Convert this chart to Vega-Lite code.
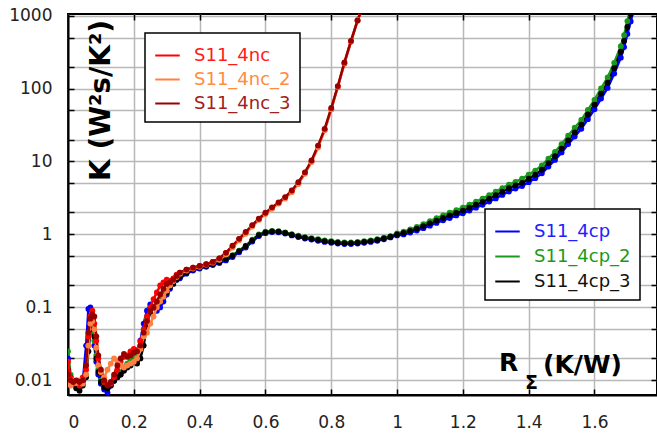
{
  "$schema": "https://vega.github.io/schema/vega-lite/v6.json",
  "width": 589,
  "height": 381,
  "autosize": {"type": "none"},
  "padding": {"left": 68, "top": 14, "right": 0, "bottom": 40},
  "background": "white",
  "datasets": {
    "cp": [
      {"s":"S11_4cp","x":0,"y":0.02},{"s":"S11_4cp","x":0.008,"y":0.01},{"s":"S11_4cp","x":0.016,"y":0.009},{"s":"S11_4cp","x":0.025,"y":0.0085},{"s":"S11_4cp","x":0.035,"y":0.009},{"s":"S11_4cp","x":0.045,"y":0.0095},{"s":"S11_4cp","x":0.055,"y":0.03},{"s":"S11_4cp","x":0.062,"y":0.095},{"s":"S11_4cp","x":0.068,"y":0.1},{"s":"S11_4cp","x":0.074,"y":0.06},{"s":"S11_4cp","x":0.08,"y":0.03},{"s":"S11_4cp","x":0.086,"y":0.018},{"s":"S11_4cp","x":0.092,"y":0.012},{"s":"S11_4cp","x":0.1,"y":0.009},{"s":"S11_4cp","x":0.11,"y":0.0075},{"s":"S11_4cp","x":0.12,"y":0.0068},{"s":"S11_4cp","x":0.13,"y":0.0085},{"s":"S11_4cp","x":0.14,"y":0.01},{"s":"S11_4cp","x":0.15,"y":0.011},{"s":"S11_4cp","x":0.16,"y":0.012},{"s":"S11_4cp","x":0.17,"y":0.014},{"s":"S11_4cp","x":0.18,"y":0.016},{"s":"S11_4cp","x":0.19,"y":0.018},{"s":"S11_4cp","x":0.2,"y":0.02},{"s":"S11_4cp","x":0.21,"y":0.024},{"s":"S11_4cp","x":0.22,"y":0.035},{"s":"S11_4cp","x":0.23,"y":0.06},{"s":"S11_4cp","x":0.24,"y":0.09},{"s":"S11_4cp","x":0.25,"y":0.11},{"s":"S11_4cp","x":0.26,"y":0.1},{"s":"S11_4cp","x":0.27,"y":0.09},{"s":"S11_4cp","x":0.28,"y":0.1},{"s":"S11_4cp","x":0.29,"y":0.12},{"s":"S11_4cp","x":0.3,"y":0.15},{"s":"S11_4cp","x":0.31,"y":0.18},{"s":"S11_4cp","x":0.32,"y":0.22},{"s":"S11_4cp","x":0.33,"y":0.24},
      {"s":"S11_4cp","x":0.34,"y":0.25},{"s":"S11_4cp","x":0.36,"y":0.29},{"s":"S11_4cp","x":0.38,"y":0.32},{"s":"S11_4cp","x":0.4,"y":0.34},{"s":"S11_4cp","x":0.42,"y":0.36},{"s":"S11_4cp","x":0.44,"y":0.38},{"s":"S11_4cp","x":0.46,"y":0.405},{"s":"S11_4cp","x":0.48,"y":0.44},{"s":"S11_4cp","x":0.5,"y":0.49},{"s":"S11_4cp","x":0.52,"y":0.57},{"s":"S11_4cp","x":0.54,"y":0.66},{"s":"S11_4cp","x":0.56,"y":0.8},{"s":"S11_4cp","x":0.58,"y":0.95},{"s":"S11_4cp","x":0.6,"y":1.04},{"s":"S11_4cp","x":0.62,"y":1.08},{"s":"S11_4cp","x":0.64,"y":1.07},{"s":"S11_4cp","x":0.66,"y":1.03},{"s":"S11_4cp","x":0.68,"y":0.97},{"s":"S11_4cp","x":0.7,"y":0.92},{"s":"S11_4cp","x":0.72,"y":0.88},{"s":"S11_4cp","x":0.74,"y":0.85},{"s":"S11_4cp","x":0.76,"y":0.82},{"s":"S11_4cp","x":0.78,"y":0.79},{"s":"S11_4cp","x":0.8,"y":0.77},{"s":"S11_4cp","x":0.82,"y":0.75},{"s":"S11_4cp","x":0.84,"y":0.74},{"s":"S11_4cp","x":0.86,"y":0.74},{"s":"S11_4cp","x":0.88,"y":0.75},{"s":"S11_4cp","x":0.9,"y":0.77},{"s":"S11_4cp","x":0.92,"y":0.79},{"s":"S11_4cp","x":0.94,"y":0.82},{"s":"S11_4cp","x":0.96,"y":0.86},{"s":"S11_4cp","x":0.98,"y":0.91},
      {"s":"S11_4cp","x":1.0,"y":0.97},{"s":"S11_4cp","x":1.02,"y":1.0},{"s":"S11_4cp","x":1.04,"y":1.06},{"s":"S11_4cp","x":1.06,"y":1.13},{"s":"S11_4cp","x":1.08,"y":1.22},{"s":"S11_4cp","x":1.1,"y":1.32},{"s":"S11_4cp","x":1.12,"y":1.44},{"s":"S11_4cp","x":1.14,"y":1.56},{"s":"S11_4cp","x":1.16,"y":1.68},{"s":"S11_4cp","x":1.18,"y":1.82},{"s":"S11_4cp","x":1.2,"y":1.95},{"s":"S11_4cp","x":1.22,"y":2.12},{"s":"S11_4cp","x":1.24,"y":2.33},{"s":"S11_4cp","x":1.26,"y":2.55},{"s":"S11_4cp","x":1.28,"y":2.82},{"s":"S11_4cp","x":1.3,"y":3.12},{"s":"S11_4cp","x":1.32,"y":3.48},{"s":"S11_4cp","x":1.34,"y":3.88},{"s":"S11_4cp","x":1.36,"y":4.25},{"s":"S11_4cp","x":1.38,"y":4.6},{"s":"S11_4cp","x":1.4,"y":5.2},{"s":"S11_4cp","x":1.42,"y":5.9},{"s":"S11_4cp","x":1.44,"y":6.9},{"s":"S11_4cp","x":1.46,"y":8.5},{"s":"S11_4cp","x":1.48,"y":10.5},{"s":"S11_4cp","x":1.5,"y":13.3},{"s":"S11_4cp","x":1.52,"y":17.3},{"s":"S11_4cp","x":1.54,"y":22},{"s":"S11_4cp","x":1.56,"y":28},{"s":"S11_4cp","x":1.58,"y":38},{"s":"S11_4cp","x":1.6,"y":52},{"s":"S11_4cp","x":1.62,"y":73},{"s":"S11_4cp","x":1.64,"y":102},{"s":"S11_4cp","x":1.66,"y":160},{"s":"S11_4cp","x":1.68,"y":265},{"s":"S11_4cp","x":1.69,"y":370},{"s":"S11_4cp","x":1.7,"y":560},{"s":"S11_4cp","x":1.71,"y":830},{"s":"S11_4cp","x":1.72,"y":1250},

      {"s":"S11_4cp_2","x":0,"y":0.025},{"s":"S11_4cp_2","x":0.008,"y":0.012},{"s":"S11_4cp_2","x":0.016,"y":0.0095},{"s":"S11_4cp_2","x":0.025,"y":0.0085},{"s":"S11_4cp_2","x":0.035,"y":0.0082},{"s":"S11_4cp_2","x":0.045,"y":0.009},{"s":"S11_4cp_2","x":0.055,"y":0.012},{"s":"S11_4cp_2","x":0.062,"y":0.03},{"s":"S11_4cp_2","x":0.068,"y":0.045},{"s":"S11_4cp_2","x":0.074,"y":0.05},{"s":"S11_4cp_2","x":0.08,"y":0.035},{"s":"S11_4cp_2","x":0.086,"y":0.022},{"s":"S11_4cp_2","x":0.092,"y":0.014},{"s":"S11_4cp_2","x":0.1,"y":0.01},{"s":"S11_4cp_2","x":0.11,"y":0.0088},{"s":"S11_4cp_2","x":0.12,"y":0.0085},{"s":"S11_4cp_2","x":0.13,"y":0.009},{"s":"S11_4cp_2","x":0.14,"y":0.0105},{"s":"S11_4cp_2","x":0.15,"y":0.012},{"s":"S11_4cp_2","x":0.16,"y":0.013},{"s":"S11_4cp_2","x":0.17,"y":0.015},{"s":"S11_4cp_2","x":0.18,"y":0.017},{"s":"S11_4cp_2","x":0.19,"y":0.019},{"s":"S11_4cp_2","x":0.2,"y":0.021},{"s":"S11_4cp_2","x":0.21,"y":0.023},{"s":"S11_4cp_2","x":0.22,"y":0.03},{"s":"S11_4cp_2","x":0.23,"y":0.045},{"s":"S11_4cp_2","x":0.24,"y":0.07},{"s":"S11_4cp_2","x":0.25,"y":0.085},{"s":"S11_4cp_2","x":0.26,"y":0.1},{"s":"S11_4cp_2","x":0.27,"y":0.11},{"s":"S11_4cp_2","x":0.28,"y":0.13},{"s":"S11_4cp_2","x":0.29,"y":0.15},{"s":"S11_4cp_2","x":0.3,"y":0.17},{"s":"S11_4cp_2","x":0.31,"y":0.2},{"s":"S11_4cp_2","x":0.32,"y":0.22},{"s":"S11_4cp_2","x":0.33,"y":0.245},
      {"s":"S11_4cp_2","x":0.34,"y":0.27},{"s":"S11_4cp_2","x":0.36,"y":0.31},{"s":"S11_4cp_2","x":0.38,"y":0.34},{"s":"S11_4cp_2","x":0.4,"y":0.36},{"s":"S11_4cp_2","x":0.42,"y":0.38},{"s":"S11_4cp_2","x":0.44,"y":0.4},{"s":"S11_4cp_2","x":0.46,"y":0.43},{"s":"S11_4cp_2","x":0.48,"y":0.47},{"s":"S11_4cp_2","x":0.5,"y":0.52},{"s":"S11_4cp_2","x":0.52,"y":0.6},{"s":"S11_4cp_2","x":0.54,"y":0.7},{"s":"S11_4cp_2","x":0.56,"y":0.85},{"s":"S11_4cp_2","x":0.58,"y":1.0},{"s":"S11_4cp_2","x":0.6,"y":1.09},{"s":"S11_4cp_2","x":0.62,"y":1.12},{"s":"S11_4cp_2","x":0.64,"y":1.11},{"s":"S11_4cp_2","x":0.66,"y":1.07},{"s":"S11_4cp_2","x":0.68,"y":1.01},{"s":"S11_4cp_2","x":0.7,"y":0.96},{"s":"S11_4cp_2","x":0.72,"y":0.92},{"s":"S11_4cp_2","x":0.74,"y":0.89},{"s":"S11_4cp_2","x":0.76,"y":0.86},{"s":"S11_4cp_2","x":0.78,"y":0.83},{"s":"S11_4cp_2","x":0.8,"y":0.81},{"s":"S11_4cp_2","x":0.82,"y":0.79},{"s":"S11_4cp_2","x":0.84,"y":0.78},{"s":"S11_4cp_2","x":0.86,"y":0.78},{"s":"S11_4cp_2","x":0.88,"y":0.79},{"s":"S11_4cp_2","x":0.9,"y":0.81},{"s":"S11_4cp_2","x":0.92,"y":0.83},{"s":"S11_4cp_2","x":0.94,"y":0.86},{"s":"S11_4cp_2","x":0.96,"y":0.9},{"s":"S11_4cp_2","x":0.98,"y":0.95},
      {"s":"S11_4cp_2","x":1.0,"y":1.03},{"s":"S11_4cp_2","x":1.02,"y":1.09},{"s":"S11_4cp_2","x":1.04,"y":1.17},{"s":"S11_4cp_2","x":1.06,"y":1.27},{"s":"S11_4cp_2","x":1.08,"y":1.38},{"s":"S11_4cp_2","x":1.1,"y":1.52},{"s":"S11_4cp_2","x":1.12,"y":1.67},{"s":"S11_4cp_2","x":1.14,"y":1.82},{"s":"S11_4cp_2","x":1.16,"y":1.98},{"s":"S11_4cp_2","x":1.18,"y":2.15},{"s":"S11_4cp_2","x":1.2,"y":2.33},{"s":"S11_4cp_2","x":1.22,"y":2.56},{"s":"S11_4cp_2","x":1.24,"y":2.82},{"s":"S11_4cp_2","x":1.26,"y":3.1},{"s":"S11_4cp_2","x":1.28,"y":3.45},{"s":"S11_4cp_2","x":1.3,"y":3.85},{"s":"S11_4cp_2","x":1.32,"y":4.3},{"s":"S11_4cp_2","x":1.34,"y":4.8},{"s":"S11_4cp_2","x":1.36,"y":5.25},{"s":"S11_4cp_2","x":1.38,"y":5.8},{"s":"S11_4cp_2","x":1.4,"y":6.6},{"s":"S11_4cp_2","x":1.42,"y":7.5},{"s":"S11_4cp_2","x":1.44,"y":8.8},{"s":"S11_4cp_2","x":1.46,"y":10.9},{"s":"S11_4cp_2","x":1.48,"y":13.5},{"s":"S11_4cp_2","x":1.5,"y":17.2},{"s":"S11_4cp_2","x":1.52,"y":22.5},{"s":"S11_4cp_2","x":1.54,"y":29},{"s":"S11_4cp_2","x":1.56,"y":37},{"s":"S11_4cp_2","x":1.58,"y":51},{"s":"S11_4cp_2","x":1.6,"y":70},{"s":"S11_4cp_2","x":1.62,"y":100},{"s":"S11_4cp_2","x":1.64,"y":142},{"s":"S11_4cp_2","x":1.66,"y":225},{"s":"S11_4cp_2","x":1.68,"y":380},{"s":"S11_4cp_2","x":1.69,"y":540},{"s":"S11_4cp_2","x":1.7,"y":840},{"s":"S11_4cp_2","x":1.71,"y":1250},

      {"s":"S11_4cp_3","x":0,"y":0.014},{"s":"S11_4cp_3","x":0.008,"y":0.011},{"s":"S11_4cp_3","x":0.016,"y":0.009},{"s":"S11_4cp_3","x":0.025,"y":0.0078},{"s":"S11_4cp_3","x":0.035,"y":0.0072},{"s":"S11_4cp_3","x":0.045,"y":0.0085},{"s":"S11_4cp_3","x":0.055,"y":0.011},{"s":"S11_4cp_3","x":0.062,"y":0.025},{"s":"S11_4cp_3","x":0.068,"y":0.05},{"s":"S11_4cp_3","x":0.074,"y":0.07},{"s":"S11_4cp_3","x":0.08,"y":0.04},{"s":"S11_4cp_3","x":0.086,"y":0.02},{"s":"S11_4cp_3","x":0.092,"y":0.013},{"s":"S11_4cp_3","x":0.1,"y":0.0095},{"s":"S11_4cp_3","x":0.11,"y":0.008},{"s":"S11_4cp_3","x":0.12,"y":0.0078},{"s":"S11_4cp_3","x":0.13,"y":0.0085},{"s":"S11_4cp_3","x":0.14,"y":0.0098},{"s":"S11_4cp_3","x":0.15,"y":0.011},{"s":"S11_4cp_3","x":0.16,"y":0.012},{"s":"S11_4cp_3","x":0.17,"y":0.0135},{"s":"S11_4cp_3","x":0.18,"y":0.015},{"s":"S11_4cp_3","x":0.19,"y":0.016},{"s":"S11_4cp_3","x":0.2,"y":0.018},{"s":"S11_4cp_3","x":0.21,"y":0.017},{"s":"S11_4cp_3","x":0.22,"y":0.02},{"s":"S11_4cp_3","x":0.23,"y":0.03},{"s":"S11_4cp_3","x":0.24,"y":0.06},{"s":"S11_4cp_3","x":0.25,"y":0.085},{"s":"S11_4cp_3","x":0.26,"y":0.1},{"s":"S11_4cp_3","x":0.27,"y":0.1},{"s":"S11_4cp_3","x":0.28,"y":0.12},{"s":"S11_4cp_3","x":0.29,"y":0.14},{"s":"S11_4cp_3","x":0.3,"y":0.16},{"s":"S11_4cp_3","x":0.31,"y":0.19},{"s":"S11_4cp_3","x":0.32,"y":0.21},{"s":"S11_4cp_3","x":0.33,"y":0.24},
      {"s":"S11_4cp_3","x":0.34,"y":0.26},{"s":"S11_4cp_3","x":0.36,"y":0.3},{"s":"S11_4cp_3","x":0.38,"y":0.33},{"s":"S11_4cp_3","x":0.4,"y":0.35},{"s":"S11_4cp_3","x":0.42,"y":0.37},{"s":"S11_4cp_3","x":0.44,"y":0.39},{"s":"S11_4cp_3","x":0.46,"y":0.42},{"s":"S11_4cp_3","x":0.48,"y":0.46},{"s":"S11_4cp_3","x":0.5,"y":0.51},{"s":"S11_4cp_3","x":0.52,"y":0.59},{"s":"S11_4cp_3","x":0.54,"y":0.69},{"s":"S11_4cp_3","x":0.56,"y":0.83},{"s":"S11_4cp_3","x":0.58,"y":0.98},{"s":"S11_4cp_3","x":0.6,"y":1.07},{"s":"S11_4cp_3","x":0.62,"y":1.1},{"s":"S11_4cp_3","x":0.64,"y":1.09},{"s":"S11_4cp_3","x":0.66,"y":1.05},{"s":"S11_4cp_3","x":0.68,"y":0.99},{"s":"S11_4cp_3","x":0.7,"y":0.94},{"s":"S11_4cp_3","x":0.72,"y":0.9},{"s":"S11_4cp_3","x":0.74,"y":0.87},{"s":"S11_4cp_3","x":0.76,"y":0.84},{"s":"S11_4cp_3","x":0.78,"y":0.81},{"s":"S11_4cp_3","x":0.8,"y":0.79},{"s":"S11_4cp_3","x":0.82,"y":0.77},{"s":"S11_4cp_3","x":0.84,"y":0.76},{"s":"S11_4cp_3","x":0.86,"y":0.76},{"s":"S11_4cp_3","x":0.88,"y":0.77},{"s":"S11_4cp_3","x":0.9,"y":0.79},{"s":"S11_4cp_3","x":0.92,"y":0.81},{"s":"S11_4cp_3","x":0.94,"y":0.84},{"s":"S11_4cp_3","x":0.96,"y":0.88},{"s":"S11_4cp_3","x":0.98,"y":0.93},
      {"s":"S11_4cp_3","x":1.0,"y":1.0},{"s":"S11_4cp_3","x":1.02,"y":1.05},{"s":"S11_4cp_3","x":1.04,"y":1.12},{"s":"S11_4cp_3","x":1.06,"y":1.2},{"s":"S11_4cp_3","x":1.08,"y":1.3},{"s":"S11_4cp_3","x":1.1,"y":1.42},{"s":"S11_4cp_3","x":1.12,"y":1.55},{"s":"S11_4cp_3","x":1.14,"y":1.68},{"s":"S11_4cp_3","x":1.16,"y":1.82},{"s":"S11_4cp_3","x":1.18,"y":1.97},{"s":"S11_4cp_3","x":1.2,"y":2.12},{"s":"S11_4cp_3","x":1.22,"y":2.32},{"s":"S11_4cp_3","x":1.24,"y":2.55},{"s":"S11_4cp_3","x":1.26,"y":2.8},{"s":"S11_4cp_3","x":1.28,"y":3.1},{"s":"S11_4cp_3","x":1.3,"y":3.45},{"s":"S11_4cp_3","x":1.32,"y":3.85},{"s":"S11_4cp_3","x":1.34,"y":4.3},{"s":"S11_4cp_3","x":1.36,"y":4.7},{"s":"S11_4cp_3","x":1.38,"y":5.1},{"s":"S11_4cp_3","x":1.4,"y":5.8},{"s":"S11_4cp_3","x":1.42,"y":6.6},{"s":"S11_4cp_3","x":1.44,"y":7.7},{"s":"S11_4cp_3","x":1.46,"y":9.5},{"s":"S11_4cp_3","x":1.48,"y":11.8},{"s":"S11_4cp_3","x":1.5,"y":15},{"s":"S11_4cp_3","x":1.52,"y":19.5},{"s":"S11_4cp_3","x":1.54,"y":25},{"s":"S11_4cp_3","x":1.56,"y":32},{"s":"S11_4cp_3","x":1.58,"y":44},{"s":"S11_4cp_3","x":1.6,"y":60},{"s":"S11_4cp_3","x":1.62,"y":85},{"s":"S11_4cp_3","x":1.64,"y":120},{"s":"S11_4cp_3","x":1.66,"y":190},{"s":"S11_4cp_3","x":1.68,"y":320},{"s":"S11_4cp_3","x":1.69,"y":450},{"s":"S11_4cp_3","x":1.7,"y":700},{"s":"S11_4cp_3","x":1.71,"y":1050}
    ],
    "nc": [
      {"s":"S11_4nc","x":0,"y":0.018},{"s":"S11_4nc","x":0.008,"y":0.011},{"s":"S11_4nc","x":0.016,"y":0.009},{"s":"S11_4nc","x":0.025,"y":0.0095},{"s":"S11_4nc","x":0.035,"y":0.0085},{"s":"S11_4nc","x":0.045,"y":0.011},{"s":"S11_4nc","x":0.055,"y":0.014},{"s":"S11_4nc","x":0.062,"y":0.04},{"s":"S11_4nc","x":0.068,"y":0.075},{"s":"S11_4nc","x":0.074,"y":0.09},{"s":"S11_4nc","x":0.08,"y":0.06},{"s":"S11_4nc","x":0.086,"y":0.035},{"s":"S11_4nc","x":0.092,"y":0.02},{"s":"S11_4nc","x":0.1,"y":0.013},{"s":"S11_4nc","x":0.11,"y":0.0095},{"s":"S11_4nc","x":0.12,"y":0.0088},{"s":"S11_4nc","x":0.13,"y":0.009},{"s":"S11_4nc","x":0.14,"y":0.011},{"s":"S11_4nc","x":0.15,"y":0.014},{"s":"S11_4nc","x":0.16,"y":0.018},{"s":"S11_4nc","x":0.17,"y":0.021},{"s":"S11_4nc","x":0.18,"y":0.022},{"s":"S11_4nc","x":0.19,"y":0.025},{"s":"S11_4nc","x":0.2,"y":0.027},{"s":"S11_4nc","x":0.21,"y":0.026},{"s":"S11_4nc","x":0.22,"y":0.034},{"s":"S11_4nc","x":0.23,"y":0.05},{"s":"S11_4nc","x":0.24,"y":0.075},{"s":"S11_4nc","x":0.25,"y":0.1},{"s":"S11_4nc","x":0.26,"y":0.13},{"s":"S11_4nc","x":0.27,"y":0.16},{"s":"S11_4nc","x":0.28,"y":0.2},{"s":"S11_4nc","x":0.29,"y":0.22},{"s":"S11_4nc","x":0.3,"y":0.24},{"s":"S11_4nc","x":0.31,"y":0.23},{"s":"S11_4nc","x":0.32,"y":0.25},{"s":"S11_4nc","x":0.33,"y":0.28},{"s":"S11_4nc","x":0.34,"y":0.3},{"s":"S11_4nc","x":0.36,"y":0.33},{"s":"S11_4nc","x":0.38,"y":0.35},{"s":"S11_4nc","x":0.4,"y":0.37},{"s":"S11_4nc","x":0.42,"y":0.39},{"s":"S11_4nc","x":0.44,"y":0.42},{"s":"S11_4nc","x":0.46,"y":0.47},{"s":"S11_4nc","x":0.48,"y":0.56},{"s":"S11_4nc","x":0.5,"y":0.69},{"s":"S11_4nc","x":0.52,"y":0.86},{"s":"S11_4nc","x":0.54,"y":1.06},{"s":"S11_4nc","x":0.56,"y":1.32},{"s":"S11_4nc","x":0.58,"y":1.62},{"s":"S11_4nc","x":0.6,"y":1.95},{"s":"S11_4nc","x":0.62,"y":2.3},{"s":"S11_4nc","x":0.64,"y":2.7},{"s":"S11_4nc","x":0.66,"y":3.2},{"s":"S11_4nc","x":0.68,"y":3.9},{"s":"S11_4nc","x":0.7,"y":5.0},{"s":"S11_4nc","x":0.72,"y":6.9},{"s":"S11_4nc","x":0.74,"y":10},{"s":"S11_4nc","x":0.76,"y":16},{"s":"S11_4nc","x":0.78,"y":27},{"s":"S11_4nc","x":0.8,"y":52},{"s":"S11_4nc","x":0.82,"y":105},{"s":"S11_4nc","x":0.84,"y":220},{"s":"S11_4nc","x":0.86,"y":440},{"s":"S11_4nc","x":0.88,"y":850},{"s":"S11_4nc","x":0.895,"y":1300},

      {"s":"S11_4nc_2","x":0,"y":0.009},{"s":"S11_4nc_2","x":0.008,"y":0.0085},{"s":"S11_4nc_2","x":0.016,"y":0.01},{"s":"S11_4nc_2","x":0.025,"y":0.0092},{"s":"S11_4nc_2","x":0.035,"y":0.01},{"s":"S11_4nc_2","x":0.045,"y":0.009},{"s":"S11_4nc_2","x":0.055,"y":0.012},{"s":"S11_4nc_2","x":0.062,"y":0.03},{"s":"S11_4nc_2","x":0.068,"y":0.06},{"s":"S11_4nc_2","x":0.074,"y":0.065},{"s":"S11_4nc_2","x":0.08,"y":0.05},{"s":"S11_4nc_2","x":0.086,"y":0.028},{"s":"S11_4nc_2","x":0.092,"y":0.016},{"s":"S11_4nc_2","x":0.1,"y":0.013},{"s":"S11_4nc_2","x":0.11,"y":0.011},{"s":"S11_4nc_2","x":0.12,"y":0.014},{"s":"S11_4nc_2","x":0.13,"y":0.017},{"s":"S11_4nc_2","x":0.14,"y":0.02},{"s":"S11_4nc_2","x":0.15,"y":0.018},{"s":"S11_4nc_2","x":0.16,"y":0.016},{"s":"S11_4nc_2","x":0.17,"y":0.015},{"s":"S11_4nc_2","x":0.18,"y":0.016},{"s":"S11_4nc_2","x":0.19,"y":0.017},{"s":"S11_4nc_2","x":0.2,"y":0.018},{"s":"S11_4nc_2","x":0.21,"y":0.02},{"s":"S11_4nc_2","x":0.22,"y":0.027},{"s":"S11_4nc_2","x":0.23,"y":0.04},{"s":"S11_4nc_2","x":0.24,"y":0.045},{"s":"S11_4nc_2","x":0.25,"y":0.06},{"s":"S11_4nc_2","x":0.26,"y":0.075},{"s":"S11_4nc_2","x":0.27,"y":0.1},{"s":"S11_4nc_2","x":0.28,"y":0.12},{"s":"S11_4nc_2","x":0.29,"y":0.14},{"s":"S11_4nc_2","x":0.3,"y":0.17},{"s":"S11_4nc_2","x":0.31,"y":0.2},{"s":"S11_4nc_2","x":0.32,"y":0.23},{"s":"S11_4nc_2","x":0.33,"y":0.26},{"s":"S11_4nc_2","x":0.34,"y":0.29},{"s":"S11_4nc_2","x":0.36,"y":0.32},{"s":"S11_4nc_2","x":0.38,"y":0.34},{"s":"S11_4nc_2","x":0.4,"y":0.36},{"s":"S11_4nc_2","x":0.42,"y":0.385},{"s":"S11_4nc_2","x":0.44,"y":0.41},{"s":"S11_4nc_2","x":0.46,"y":0.45},{"s":"S11_4nc_2","x":0.48,"y":0.53},{"s":"S11_4nc_2","x":0.5,"y":0.66},{"s":"S11_4nc_2","x":0.52,"y":0.83},{"s":"S11_4nc_2","x":0.54,"y":1.02},{"s":"S11_4nc_2","x":0.56,"y":1.28},{"s":"S11_4nc_2","x":0.58,"y":1.58},{"s":"S11_4nc_2","x":0.6,"y":1.9},{"s":"S11_4nc_2","x":0.62,"y":2.25},{"s":"S11_4nc_2","x":0.64,"y":2.65},{"s":"S11_4nc_2","x":0.66,"y":3.1},{"s":"S11_4nc_2","x":0.68,"y":3.8},{"s":"S11_4nc_2","x":0.7,"y":4.9},{"s":"S11_4nc_2","x":0.72,"y":6.8},{"s":"S11_4nc_2","x":0.74,"y":9.8},{"s":"S11_4nc_2","x":0.76,"y":15.5},{"s":"S11_4nc_2","x":0.78,"y":27},{"s":"S11_4nc_2","x":0.8,"y":52},{"s":"S11_4nc_2","x":0.82,"y":106},{"s":"S11_4nc_2","x":0.84,"y":225},{"s":"S11_4nc_2","x":0.86,"y":450},{"s":"S11_4nc_2","x":0.88,"y":870},{"s":"S11_4nc_2","x":0.895,"y":1300},

      {"s":"S11_4nc_3","x":0,"y":0.012},{"s":"S11_4nc_3","x":0.008,"y":0.01},{"s":"S11_4nc_3","x":0.016,"y":0.0095},{"s":"S11_4nc_3","x":0.025,"y":0.01},{"s":"S11_4nc_3","x":0.035,"y":0.0095},{"s":"S11_4nc_3","x":0.045,"y":0.01},{"s":"S11_4nc_3","x":0.055,"y":0.016},{"s":"S11_4nc_3","x":0.062,"y":0.045},{"s":"S11_4nc_3","x":0.068,"y":0.07},{"s":"S11_4nc_3","x":0.074,"y":0.08},{"s":"S11_4nc_3","x":0.08,"y":0.075},{"s":"S11_4nc_3","x":0.086,"y":0.04},{"s":"S11_4nc_3","x":0.092,"y":0.022},{"s":"S11_4nc_3","x":0.1,"y":0.014},{"s":"S11_4nc_3","x":0.11,"y":0.01},{"s":"S11_4nc_3","x":0.12,"y":0.0085},{"s":"S11_4nc_3","x":0.13,"y":0.0095},{"s":"S11_4nc_3","x":0.14,"y":0.012},{"s":"S11_4nc_3","x":0.15,"y":0.016},{"s":"S11_4nc_3","x":0.16,"y":0.02},{"s":"S11_4nc_3","x":0.17,"y":0.023},{"s":"S11_4nc_3","x":0.18,"y":0.021},{"s":"S11_4nc_3","x":0.19,"y":0.022},{"s":"S11_4nc_3","x":0.2,"y":0.024},{"s":"S11_4nc_3","x":0.21,"y":0.025},{"s":"S11_4nc_3","x":0.22,"y":0.03},{"s":"S11_4nc_3","x":0.23,"y":0.045},{"s":"S11_4nc_3","x":0.24,"y":0.065},{"s":"S11_4nc_3","x":0.25,"y":0.09},{"s":"S11_4nc_3","x":0.26,"y":0.1},{"s":"S11_4nc_3","x":0.27,"y":0.12},{"s":"S11_4nc_3","x":0.28,"y":0.15},{"s":"S11_4nc_3","x":0.29,"y":0.18},{"s":"S11_4nc_3","x":0.3,"y":0.21},{"s":"S11_4nc_3","x":0.31,"y":0.22},{"s":"S11_4nc_3","x":0.32,"y":0.24},{"s":"S11_4nc_3","x":0.33,"y":0.27},{"s":"S11_4nc_3","x":0.34,"y":0.3},{"s":"S11_4nc_3","x":0.36,"y":0.33},{"s":"S11_4nc_3","x":0.38,"y":0.35},{"s":"S11_4nc_3","x":0.4,"y":0.37},{"s":"S11_4nc_3","x":0.42,"y":0.39},{"s":"S11_4nc_3","x":0.44,"y":0.42},{"s":"S11_4nc_3","x":0.46,"y":0.47},{"s":"S11_4nc_3","x":0.48,"y":0.56},{"s":"S11_4nc_3","x":0.5,"y":0.7},{"s":"S11_4nc_3","x":0.52,"y":0.87},{"s":"S11_4nc_3","x":0.54,"y":1.08},{"s":"S11_4nc_3","x":0.56,"y":1.34},{"s":"S11_4nc_3","x":0.58,"y":1.64},{"s":"S11_4nc_3","x":0.6,"y":1.98},{"s":"S11_4nc_3","x":0.62,"y":2.35},{"s":"S11_4nc_3","x":0.64,"y":2.75},{"s":"S11_4nc_3","x":0.66,"y":3.25},{"s":"S11_4nc_3","x":0.68,"y":4.0},{"s":"S11_4nc_3","x":0.7,"y":5.2},{"s":"S11_4nc_3","x":0.72,"y":7.1},{"s":"S11_4nc_3","x":0.74,"y":10.3},{"s":"S11_4nc_3","x":0.76,"y":16.5},{"s":"S11_4nc_3","x":0.78,"y":28},{"s":"S11_4nc_3","x":0.8,"y":54},{"s":"S11_4nc_3","x":0.82,"y":108},{"s":"S11_4nc_3","x":0.84,"y":228},{"s":"S11_4nc_3","x":0.86,"y":450},{"s":"S11_4nc_3","x":0.88,"y":860},{"s":"S11_4nc_3","x":0.895,"y":1300}
    ]
  },
  "layer": [
    {
      "data": {"name": "cp"},
      "mark": {"type": "line", "strokeWidth": 2.5, "clip": true, "point": {"filled": true, "size": 34}},
      "encoding": {
        "x": {"field": "x", "type": "quantitative", "scale": {"domain": [0, 1.79], "nice": false, "zero": false},
          "axis": {"orient": "top", "values": [0.2,0.4,0.6,0.8,1,1.2,1.4,1.6], "labels": false, "grid": false, "domain": false, "tickSize": -6,
            "title": "Σ", "titleX": 463, "titleY": 374, "titleFontSize": 19, "titleAlign": "center", "titleBaseline": "alphabetic", "titleAngle": 0}},
        "y": {"field": "y", "type": "quantitative", "scale": {"type": "log", "domain": [0.0063, 1050], "nice": false},
          "axis": {"orient": "right", "values": [0.01,0.02,0.05,0.1,0.2,0.5,1,2,5,10,20,50,100,200,500,1000], "labels": false, "grid": false, "domain": false, "tickSize": -6,
            "title": "(K/W)", "titleAngle": 0, "titleX": -75, "titleY": 358, "titleFontSize": 25, "titleAlign": "center", "titleBaseline": "alphabetic"}},
        "color": {"field": "s", "type": "nominal",
          "scale": {"domain": ["S11_4cp","S11_4cp_2","S11_4cp_3"], "range": ["#0000ff","#1a9a1a","#000000"]},
          "legend": {"orient": "none", "legendX": 417, "legendY": 195, "title": null, "symbolType": "stroke", "symbolStrokeWidth": 2, "symbolSize": 600,
            "labelFont": "DejaVu Sans", "labelFontSize": 18, "labelOffset": 13, "padding": 9, "rowPadding": 2,
            "strokeColor": "black", "fillColor": "white",
            "encode": {"legend": {"update": {"strokeWidth": {"value": 1.5}}},
              "labels": {"update": {"fill": {"signal": "datum.value === 'S11_4cp' ? '#2020ff' : datum.value === 'S11_4cp_2' ? '#1a9a1a' : '#111111'"}}}}}}
      }
    },
    {
      "data": {"name": "nc"},
      "mark": {"type": "line", "strokeWidth": 2.5, "clip": true, "point": {"filled": true, "size": 34}},
      "encoding": {
        "x": {"field": "x", "type": "quantitative", "scale": {"domain": [0, 1.79], "nice": false, "zero": false},
          "axis": {"orient": "bottom", "values": [0,0.2,0.4,0.6,0.8,1,1.2,1.4,1.6], "format": "~g", "grid": true, "tickSize": -6, "labelPadding": 25,
            "title": "R", "titleX": 440, "titleY": -25, "titleFontSize": 25, "titleAlign": "center", "titleBaseline": "alphabetic"}},
        "y": {"field": "y", "type": "quantitative", "scale": {"type": "log", "domain": [0.0063, 1050], "nice": false},
          "axis": {"orient": "left", "values": [0.01,0.02,0.05,0.1,0.2,0.5,1,2,5,10,20,50,100,200,500,1000], "format": "~g",
            "labelExpr": "indexof([0.01,0.1,1,10,100,1000], datum.value) >= 0 ? datum.label : ''",
            "labelOverlap": false, "labelBound": false, "grid": true, "tickSize": -6, "labelPadding": 22,
            "title": "K (W²s/K²)", "titleAngle": -90, "titleX": 33, "titleY": 86, "titleFontSize": 28, "titleAlign": "center", "titleBaseline": "middle"}},
        "color": {"field": "s", "type": "nominal",
          "scale": {"domain": ["S11_4nc","S11_4nc_2","S11_4nc_3"], "range": ["#ff0000","#ff8040","#990000"]},
          "legend": {"orient": "none", "legendX": 77, "legendY": 19, "title": null, "symbolType": "stroke", "symbolStrokeWidth": 2, "symbolSize": 600,
            "labelFont": "DejaVu Sans", "labelFontSize": 18, "labelOffset": 13, "padding": 9, "rowPadding": 1,
            "strokeColor": "black", "fillColor": "white",
            "encode": {"legend": {"update": {"strokeWidth": {"value": 1.5}}},
              "labels": {"update": {"fill": {"signal": "datum.value === 'S11_4nc' ? '#ff1a1a' : datum.value === 'S11_4nc_2' ? '#ff8c40' : '#a02020'"}}}}}}
      }
    }
  ],
  "resolve": {"scale": {"color": "independent"}, "axis": {"x": "independent", "y": "independent"}},
  "config": {
    "font": "DejaVu Sans",
    "view": {"stroke": "black", "strokeWidth": 2},
    "axis": {"labelFont": "DejaVu Sans", "labelFontSize": 17, "labelColor": "#222222", "gridColor": "#b8b8b8", "gridWidth": 1.5, "gridOpacity": 1,
      "domainColor": "black", "domainWidth": 2, "tickColor": "black", "tickWidth": 1.5,
      "titleFont": "DejaVu Sans", "titleFontWeight": "bold", "titleColor": "black"}
  }
}
